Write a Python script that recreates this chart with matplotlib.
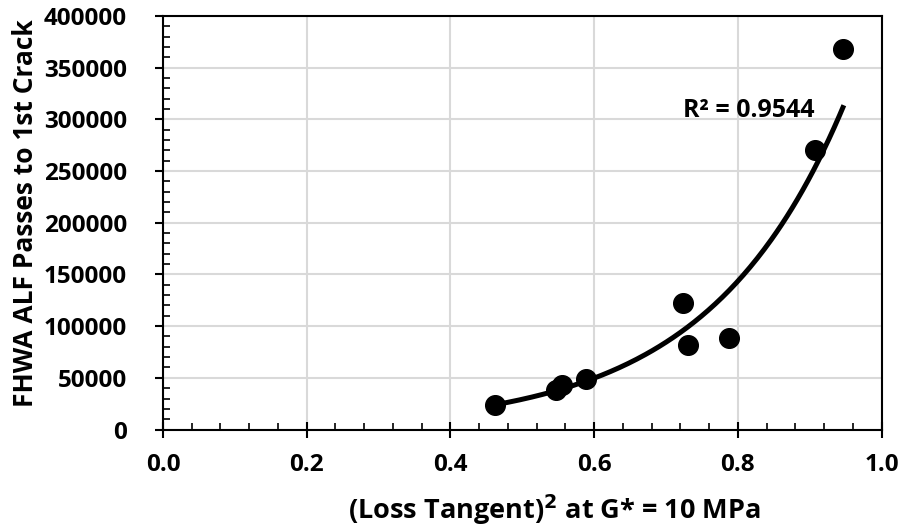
import numpy as np
import matplotlib.pyplot as plt
from matplotlib.ticker import MultipleLocator, FormatStrFormatter

plt.rcParams['font.family'] = ['Open Sans', 'DejaVu Sans']
plt.rcParams['font.weight'] = 'bold'

# loss tangent squared vs. passes to first crack
loss_tan_sq = [0.462, 0.547, 0.555, 0.589, 0.724, 0.730, 0.788, 0.907, 0.946]
passes = [23700, 38200, 43000, 48600, 122700, 81400, 88800, 270400, 367800]
r2_text = 'R² = 0.9544'

x = np.array(loss_tan_sq)
y = np.array(passes)

# exponential trendline, fitted on log(y)
b, ln_a = np.polyfit(x, np.log(y), 1)
xf = np.linspace(x.min(), x.max(), 200)
yf = np.exp(ln_a) * np.exp(b * xf)

fig = plt.figure(figsize=(9.04, 5.31), dpi=100)
ax = fig.add_axes([0.1803, 0.1911, 0.7950, 0.7788])

ax.plot(xf, yf, color='black', lw=3.6, zorder=3)
ax.scatter(x, y, s=200, color='black', zorder=4)

ax.set_xlim(0, 1.0)
ax.set_ylim(0, 400000)
ax.xaxis.set_major_locator(MultipleLocator(0.2))
ax.xaxis.set_minor_locator(MultipleLocator(0.04))
ax.xaxis.set_major_formatter(FormatStrFormatter('%.1f'))
ax.yaxis.set_major_locator(MultipleLocator(50000))
ax.yaxis.set_minor_locator(MultipleLocator(10000))

ax.grid(True, which='major', color='#d9d9d9', lw=1.5, zorder=0)
for s in ax.spines.values():
    s.set_linewidth(1.5)

ax.tick_params(axis='x', which='major', direction='inout', length=12, width=1.5,
               labelsize=17.5, pad=11)
ax.tick_params(axis='x', which='minor', direction='in', length=5, width=1.2)
ax.tick_params(axis='y', which='major', direction='out', length=6, width=1.5,
               labelsize=17.5, pad=20)
ax.tick_params(axis='y', which='minor', direction='in', length=5, width=1.2)

ax.set_xlabel('(Loss Tangent)$^\\mathbf{2}$ at G* = 10 MPa', fontsize=19.5,
              fontweight='bold', va='center')
ax.set_ylabel('FHWA ALF Passes to 1st Crack', fontsize=19, fontweight='bold',
              va='center')
ax.xaxis.set_label_coords(0.545, -0.195)
ax.yaxis.set_label_coords(-0.192, 0.524)

ax.text(0.7235, 302600, r2_text, fontsize=18, fontweight='bold', va='baseline')

fig.savefig('out.png', dpi=100)
